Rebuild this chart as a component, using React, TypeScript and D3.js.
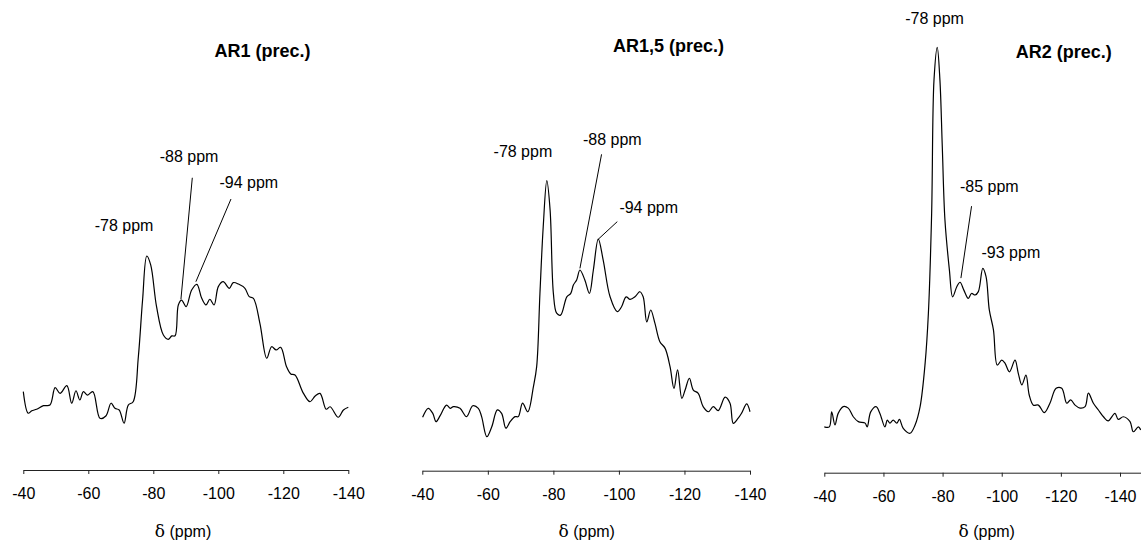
import React, { useEffect, useRef } from "react";
import * as d3 from "d3";

// ---------- DATA (chemical shift in ppm, normalised intensity) ----------
const AR1_SPECTRUM: [number, number][] = [
  [-40, 11.9], [-41.5, -2.1], [-42.6, -0.5], [-44.1, 0.5], [-46.2, 2.8], [-48.2, 3.2],
  [-49.8, 14.5], [-51.3, 10.8], [-53.4, 15.8], [-54.9, 4.4], [-56.2, 12.5], [-57.4, 6.5],
  [-58.5, 11.9], [-59.7, 9.7], [-61.4, 11.9], [-63.6, -5.4], [-65.4, -3.9], [-67.0, 4.4],
  [-68.2, 1.1], [-69.5, 0], [-71.0, -8.6], [-72.3, 3.2], [-73.8, 5.4], [-75.4, 34.6],
  [-76.7, 71.4], [-78.0, 100], [-79.2, 94.2], [-81.0, 67.1], [-83.1, 48.7], [-84.6, 45.9],
  [-85.7, 48.1], [-86.7, 48.2], [-87.7, 68.2], [-88.7, 71.4], [-90.1, 67.1], [-91.8, 77.9],
  [-93.4, 81.6], [-94.9, 72.5], [-96.2, 68.2], [-97.4, 71.9], [-98.7, 68.2], [-100.0, 80.1],
  [-101.5, 83.3], [-103.4, 79.0], [-104.6, 82.7], [-106.2, 81.8], [-108.2, 79.0], [-109.5, 73.6],
  [-110.8, 72.5], [-112.8, 56.3], [-114.9, 33.6], [-116.4, 41.1], [-117.8, 39.0], [-119.2, 40.7],
  [-121.0, 28.1], [-122.3, 23.4], [-123.6, 22.7], [-126.2, 10.8], [-128.2, 5.4], [-129.8, 9.1],
  [-131.3, 10.8], [-133.2, 0.5], [-134.4, 2.1], [-136.9, -4.7], [-138.5, 0], [-140.0, 1.8],
];

const AR15_SPECTRUM: [number, number][] = [
  [-40.1, -2.3], [-41.8, 1.6], [-43.2, -0.6], [-44.2, -4.2], [-45.4, -1.7], [-47.4, 3.0],
  [-48.5, 1.6], [-49.5, 2.3], [-51.5, 1.6], [-53.5, -2.0], [-55.4, 2.7], [-57.1, 1.6],
  [-58.1, -2.0], [-59.7, -10.7], [-61.2, -6.4], [-62.9, 0.9], [-64.2, -0.6], [-65.5, -7.0],
  [-66.8, -4.2], [-68.3, -2.0], [-69.3, -2.0], [-70.6, 3.8], [-72.2, 0.1], [-73.9, 10.9],
  [-74.9, 19.6], [-75.9, 51.3], [-76.9, 80.1], [-78.0, 100], [-79.0, 87.3], [-80.0, 51.3],
  [-81.0, 42.7], [-82.2, 41.9], [-84.1, 49.8], [-85.3, 51.3], [-86.1, 54.9], [-87.1, 57.1],
  [-88.1, 61.4], [-89.6, 57.1], [-91.0, 51.3], [-92.2, 61.4], [-93.7, 74.7], [-95.2, 65.7],
  [-97.3, 49.8], [-99.5, 43.4], [-100.8, 45.5], [-102.2, 49.8], [-103.4, 48.7], [-104.9, 49.8],
  [-106.4, 52.0], [-107.4, 49.8], [-108.5, 39.0], [-109.7, 44.1], [-111.0, 38.3], [-112.5, 30.4],
  [-114.1, 27.5], [-115.6, 19.6], [-116.8, 10.2], [-117.9, 18.2], [-119.2, 5.9], [-120.2, 9.5],
  [-121.5, 14.6], [-122.7, 9.5], [-124.2, 8.1], [-125.7, 2.3], [-127.3, 0.1], [-128.8, 2.3],
  [-130.3, 0.6], [-132.4, 6.4], [-133.9, 3.8], [-134.9, -4.9], [-136.4, -2.7], [-137.4, -0.6],
  [-139.0, 3.5], [-140.0, 0.1],
];

const AR2_SPECTRUM: [number, number][] = [
  [-40.0, -1.3], [-41.7, -1.3], [-42.5, 2.7], [-43.6, -0.8], [-44.7, 2.3], [-46.4, 4.1],
  [-48.1, 3.7], [-49.8, 1.4], [-51.5, 0.1], [-53.8, -0.3], [-54.5, -1.3], [-55.7, 2.7],
  [-57.5, 4.1], [-58.8, 2.3], [-60.5, -1.3], [-61.3, 0.5], [-62.2, -0.3], [-63.3, 0.5],
  [-64.5, -0.3], [-65.4, 0.7], [-66.7, -1.7], [-69.0, -3.0], [-70.7, -0.8], [-72.4, 4.1],
  [-74.1, 15.7], [-75.2, 29.0], [-76.3, 55.7], [-77.1, 91.3], [-78.2, 100], [-79.1, 91.3],
  [-79.9, 73.5], [-80.8, 53.9], [-82.3, 40.6], [-83.4, 33.4], [-84.8, 36.1], [-85.9, 37.3],
  [-87.2, 35.2], [-88.7, 33.0], [-89.8, 34.3], [-91.0, 33.9], [-92.1, 34.8], [-93.6, 41.0],
  [-94.7, 38.8], [-95.8, 29.9], [-97.2, 24.6], [-98.5, 15.2], [-100.0, 16.5], [-101.1, 15.7],
  [-102.6, 13.4], [-104.5, 16.5], [-105.6, 13.0], [-106.8, 9.9], [-108.2, 12.5], [-109.3, 7.2],
  [-110.7, 4.5], [-112.4, 4.5], [-114.4, 2.5], [-116.3, 5.0], [-118.4, 9.0], [-120.3, 9.0],
  [-122.0, 5.0], [-123.3, 5.9], [-124.8, 4.5], [-126.5, 3.7], [-128.2, 4.1], [-129.3, 7.7],
  [-131.0, 5.0], [-132.7, 3.2], [-134.4, 1.4], [-136.0, 0.3], [-138.3, 2.3], [-139.4, 0.7],
  [-141.1, 1.4], [-143.4, 0.1], [-144.5, -2.6], [-146.2, -1.3], [-147.0, -2.1],
];

const TICK_VALUES = [-40, -60, -80, -100, -120, -140];
const AXIS_SYMBOL = "δ";
const AXIS_UNIT = " (ppm)";
const PANEL_TITLES = ["AR1 (prec.)", "AR1,5 (prec.)", "AR2 (prec.)"];

// annotation labels: text, position (ppm, intensity), anchor
type Label = { text: string; ppm: number; val: number; anchor: string };
type Leader = { p1: [number, number]; p2: [number, number] };

const AR1_LABELS: Label[] = [
  { text: "-78 ppm", ppm: -71.0, val: 116.4, anchor: "middle" },
  { text: "-88 ppm", ppm: -91.0, val: 161.2, anchor: "middle" },
  { text: "-94 ppm", ppm: -109.4, val: 144.0, anchor: "middle" },
];
const AR1_LEADERS: Leader[] = [
  { p1: [-92.0, 150.8], p2: [-88.5, 71.9] },
  { p1: [-103.9, 137.0], p2: [-93.1, 83.3] },
];
const AR15_LABELS: Label[] = [
  { text: "-78 ppm", ppm: -70.7, val: 110.4, anchor: "middle" },
  { text: "-88 ppm", ppm: -98.0, val: 115.4, anchor: "middle" },
  { text: "-94 ppm", ppm: -109.1, val: 85.9, anchor: "middle" },
];
const AR15_LEADERS: Leader[] = [
  { p1: [-94.7, 111.4], p2: [-88.1, 62.1] },
  { p1: [-99.5, 82.3], p2: [-93.7, 74.7] },
];
const AR2_LABELS: Label[] = [
  { text: "-78 ppm", ppm: -77.3, val: 106.1, anchor: "middle" },
  { text: "-85 ppm", ppm: -95.8, val: 61.3, anchor: "middle" },
  { text: "-93 ppm", ppm: -103.1, val: 43.7, anchor: "middle" },
];
const AR2_LEADERS: Leader[] = [
  { p1: [-89.8, 57.6], p2: [-86.2, 38.4] },
];

// ---------- LAYOUT ----------
const W = 1141;
const H = 541;
const FONT = "'Liberation Sans', Arial, Helvetica, sans-serif";

const PANELS = [
  {
    data: AR1_SPECTRUM, labels: AR1_LABELS, leaders: AR1_LEADERS, title: PANEL_TITLES[0],
    titlePos: { ppm: -113.6, val: 229.4, anchor: "middle" },
    xDomain: [-40, -140], xRange: [23.3, 348.3], yRange: [410, 256], axisY: 470, axisTitleX: 183,
  },
  {
    data: AR15_SPECTRUM, labels: AR15_LABELS, leaders: AR15_LEADERS, title: PANEL_TITLES[1],
    titlePos: { ppm: -98.2, val: 155.6, anchor: "start" },
    xDomain: [-40, -140], xRange: [422.3, 750], yRange: [412, 180.7], axisY: 470.7, axisTitleX: 586.7,
  },
  {
    data: AR2_SPECTRUM, labels: AR2_LABELS, leaders: AR2_LEADERS, title: PANEL_TITLES[2],
    titlePos: { ppm: -121.0, val: 97.1, anchor: "middle" },
    xDomain: [-40, -147], xRange: [824.3, 1140.7], yRange: [422, 47.3], axisY: 472.7, axisTitleX: 986.7,
  },
];

function Panel({ cfg }: { cfg: (typeof PANELS)[number] }) {
  const axisRef = useRef<SVGGElement>(null);
  const x = d3.scaleLinear().domain(cfg.xDomain).range(cfg.xRange);
  const y = d3.scaleLinear().domain([0, 100]).range(cfg.yRange);

  useEffect(() => {
    if (!axisRef.current) return;
    const axis = d3
      .axisBottom(x)
      .tickValues(TICK_VALUES)
      .tickSizeInner(4)
      .tickSizeOuter(0)
      .tickPadding(13.5)
      .tickFormat((d) => String(d));
    const g = d3.select(axisRef.current);
    g.call(axis as any);
    g.selectAll("text").attr("font-size", 16).attr("font-family", FONT).attr("fill", "#000");
    g.selectAll("line").attr("stroke", "#222").attr("stroke-width", 1);
    g.select(".domain").attr("stroke", "#222").attr("stroke-width", 1);
  });

  const line = d3
    .line<[number, number]>()
    .x((d) => x(d[0]))
    .y((d) => y(d[1]))
    .curve(d3.curveCatmullRom.alpha(0.5));

  return (
    <g>
      <path d={line(cfg.data) || ""} fill="none" stroke="#000" strokeWidth={1.2} strokeLinejoin="round" />
      {cfg.leaders.map((l, i) => (
        <line key={i} x1={x(l.p1[0])} y1={y(l.p1[1])} x2={x(l.p2[0])} y2={y(l.p2[1])} stroke="#000" strokeWidth={1} />
      ))}
      {cfg.labels.map((l, i) => (
        <text key={i} x={x(l.ppm)} y={y(l.val)} textAnchor={l.anchor as any} fontSize={16} fontFamily={FONT} fill="#000">
          {l.text}
        </text>
      ))}
      <text
        x={x(cfg.titlePos.ppm)}
        y={y(cfg.titlePos.val)}
        textAnchor={cfg.titlePos.anchor as any}
        fontSize={18}
        fontWeight="bold"
        fontFamily={FONT}
        fill="#000"
      >
        {cfg.title}
      </text>
      <g ref={axisRef} transform={`translate(0,${cfg.axisY})`} />
      <text x={cfg.axisTitleX} y={537} textAnchor="middle" fontSize={16} fontFamily={FONT} fill="#000">
        <tspan fontFamily="'DejaVu Serif', 'Liberation Serif', serif" fontSize={17}>{AXIS_SYMBOL}</tspan>
        <tspan>{AXIS_UNIT}</tspan>
      </text>
    </g>
  );
}

export default function App() {
  return (
    <svg
      width={W}
      height={H}
      viewBox={`0 0 ${W} ${H}`}
      style={{ position: "absolute", left: 0, top: 0, background: "#fff" }}
    >
      <rect x={0} y={0} width={W} height={H} fill="#fff" />
      {PANELS.map((p, i) => (
        <Panel key={i} cfg={p} />
      ))}
    </svg>
  );
}
